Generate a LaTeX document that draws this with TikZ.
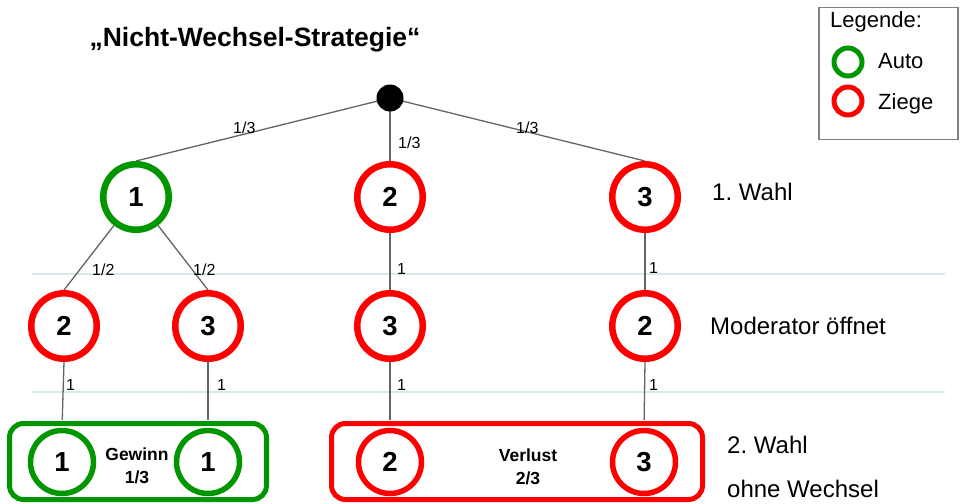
\documentclass[tikz,border=0pt]{standalone}
\usepackage{fontspec}
\setmainfont{Liberation Sans}
\usetikzlibrary{backgrounds}
\frenchspacing
\definecolor{autogreen}{RGB}{0,150,0}
\definecolor{goatred}{RGB}{255,0,0}
\definecolor{faint}{RGB}{214,232,236}
\definecolor{conn}{RGB}{100,100,100}
\tikzset{
  ring/.style={circle, draw, line width=6.5pt, minimum size=65.5pt, inner sep=0pt,
    font=\fontsize{27.5}{27.5}\selectfont\bfseries},
  smallring/.style={circle, draw, line width=5.5pt, minimum size=63pt, inner sep=0pt,
    font=\fontsize{27.5}{27.5}\selectfont\bfseries},
  legring/.style={circle, draw, line width=5pt, minimum size=28pt, inner sep=0pt},
  auto/.style={draw=autogreen},
  goat/.style={draw=goatred},
  prob/.style={anchor=base west, inner sep=0pt, font=\fontsize{16}{16}\selectfont},
  side/.style={anchor=base west, inner sep=0pt, font=\fontsize{24}{24}\selectfont},
  legtxt/.style={anchor=base west, inner sep=0pt, font=\fontsize{22}{22}\selectfont},
  result/.style={align=center, inner sep=0pt, font=\fontsize{17.5}{23}\selectfont\bfseries},
  connector/.style={draw=conn, line width=1.3pt},
  guide/.style={draw=faint, line width=1.2pt},
  resbox/.style={draw, rounded corners=14pt, line width=5pt, inner sep=0pt}
}
\begin{document}
\begin{tikzpicture}[x=1pt, y=-1pt]
\useasboundingbox (0,0) rectangle (960,503);

% title
\node[anchor=base, inner sep=0pt, font=\fontsize{26.5}{26.5}\selectfont\bfseries] (title) at (255,46) {„Nicht-Wechsel-Strategie“};

% legend
\node[draw=gray, line width=1.5pt, minimum width=139pt, minimum height=132pt, inner sep=0pt] (legbox) at (888.5,73.5) {};
\node[legtxt] (legtitle) at (830,28) {Legende:};
\node[legring, auto] (legauto) at (848,62) {};
\node[legtxt] (legautotxt) at (878,68) {Auto};
\node[legring, goat] (leggoat) at (848,101) {};
\node[legtxt] (leggoattxt) at (878,109) {Ziege};

% tree
\node[circle, fill=black, minimum size=27pt, inner sep=0pt] (root) at (390,98) {};
\node[ring, auto] (c1) at (136,197) {1};
\node[ring, goat] (c2) at (390,197) {2};
\node[ring, goat] (c3) at (645,197) {3};

\node[ring, goat] (m1) at (64,326) {2};
\node[ring, goat] (m2) at (208,326) {3};
\node[ring, goat] (m3) at (390,326) {3};
\node[ring, goat] (m4) at (645,326) {2};

\node[resbox, draw=autogreen, minimum width=257pt, minimum height=76pt] (winbox) at (138,461.5) {};
\node[resbox, draw=goatred, minimum width=371pt, minimum height=76pt] (losebox) at (517,461.5) {};

\node[smallring, auto] (w1) at (62,462) {1};
\node[smallring, auto] (w2) at (208,462) {1};
\node[smallring, goat] (w3) at (390,462) {2};
\node[smallring, goat] (w4) at (644,462) {3};

\node[result] (wintxt) at (137,466) {Gewinn\\1/3};
\node[result] (losetxt) at (528,467) {Verlust\\2/3};

% side labels
\node[side] (wahl1) at (712,200) {1. Wahl};
\node[side] (moder) at (710,334) {Moderator öffnet};
\node[side] (wahl2) at (727,453) {2. Wahl};
\node[side] (ohne) at (727,497) {ohne Wechsel};

% probabilities
\node[prob] (p1) at (233,133) {1/3};
\node[prob] (p2) at (398,148) {1/3};
\node[prob] (p3) at (516,133) {1/3};
\node[prob] (p4) at (92,275) {1/2};
\node[prob] (p5) at (193,275) {1/2};
\node[prob] (p6) at (397,274) {1};
\node[prob] (p7) at (649,273) {1};
\node[prob] (p8) at (66,390) {1};
\node[prob] (p9) at (217,390) {1};
\node[prob] (p10) at (397,390) {1};
\node[prob] (p11) at (649,390) {1};

\begin{scope}[on background layer]
  \coordinate (g1a) at (32,274); \coordinate (g1b) at (945,274);
  \coordinate (g2a) at (32,392); \coordinate (g2b) at (945,392);
  \draw[guide] (g1a) -- (g1b);
  \draw[guide] (g2a) -- (g2b);
  \draw[connector] (root.center) -- (c1.north);
  \draw[connector] (root.center) -- (c2.north);
  \draw[connector] (root.center) -- (c3.north);
  \draw[connector] (c1) -- (m1.north);
  \draw[connector] (c1) -- (m2.north);
  \draw[connector] (c2) -- (m3);
  \draw[connector] (c3) -- (m4);
  \draw[connector, shorten >=8pt] (m1.south) -- (w1.north);
  \draw[connector, shorten >=8pt] (m2.south) -- (w2.north);
  \draw[connector, shorten >=8pt] (m3.south) -- (w3.north);
  \draw[connector, shorten >=8pt] (m4.south) -- (w4.north);
\end{scope}
\end{tikzpicture}
\end{document}
